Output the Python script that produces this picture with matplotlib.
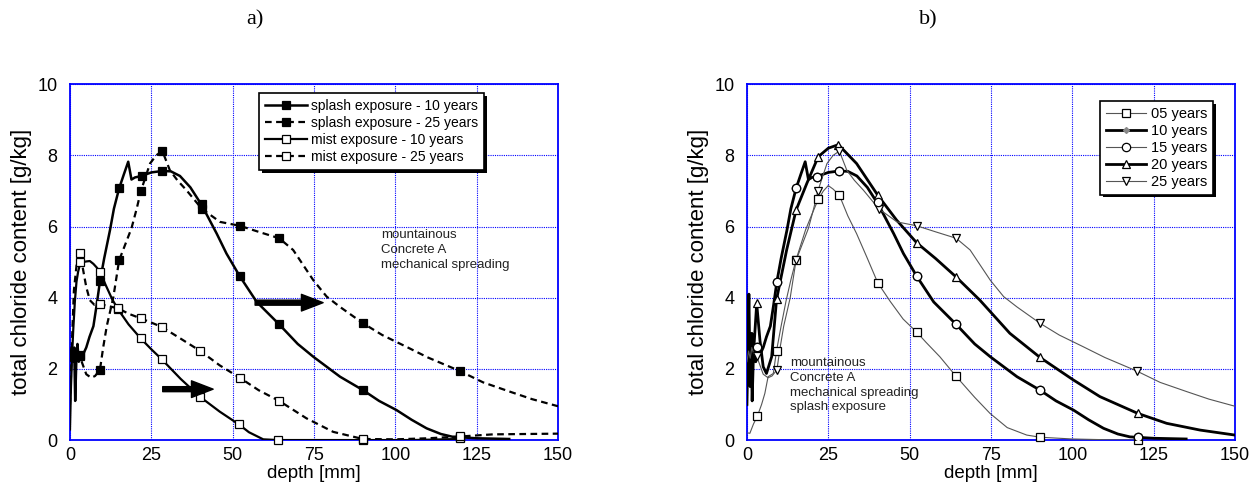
import matplotlib
matplotlib.use("Agg")
import matplotlib.pyplot as plt
from matplotlib.lines import Line2D

plt.rcParams['font.family'] = ['Liberation Sans', 'DejaVu Sans']

# ---- data (depth in mm, chloride in g/kg) ----
# splash exposure - 10 years (curve and symbols)
splash10_depth = [0, 0.5, 1.0, 1.3, 1.6, 2.0, 2.3, 2.7, 3.1, 4, 5, 6, 7.2, 8.2, 9.2, 10.5, 12.3,
                  13.5, 15.1, 16.5, 17.9, 18.9, 20, 22, 25, 28.4, 31, 33.8, 37, 40.5, 45.1, 48.1,
                  52.2, 57.4, 64.3, 70, 74.8, 83, 90.1, 95, 100.4, 105, 109.6, 114, 117.7, 125, 135]
splash10_cl = [2.3, 2.6, 2.2, 2.6, 1.1, 2.4, 2.7, 2.2, 2.34, 2.4, 2.6, 2.9, 3.2, 3.8, 4.45, 5.1, 5.9,
               6.5, 7.07, 7.45, 7.82, 7.32, 7.38, 7.42, 7.52, 7.56, 7.55, 7.42, 7.1, 6.6, 5.8, 5.24,
               4.6, 3.88, 3.25, 2.7, 2.34, 1.78, 1.4, 1.1, 0.84, 0.57, 0.33, 0.17, 0.09, 0.05, 0.03]
splash10_mk_depth = [3.2, 9.2, 15.1, 22, 28.4, 40.5, 52.2, 64.3, 90.1, 119.8]
splash10_mk_cl = [2.4, 4.47, 7.07, 7.42, 7.56, 6.62, 4.6, 3.25, 1.4, 0.08]

# splash exposure - 25 years
splash25_depth = [0, 0.5, 1, 1.5, 2, 3, 4, 5, 6.5, 7.7, 9.2, 10.2, 11.3, 12.3, 13.3, 15.1, 17, 18.9,
                  20.5, 21.8, 24.6, 26.5, 28.4, 30.7, 33, 35.8, 40.5, 46.1, 52.2, 58, 64.3, 68.6,
                  74.8, 78.9, 83, 90.1, 96, 103.4, 110, 119.8, 127, 135.2, 142, 150]
splash25_cl = [2.2, 2.5, 2.3, 2.6, 2.45, 2.35, 2.1, 1.85, 1.75, 1.8, 1.97, 2.6, 3.2, 3.6, 4.0, 5.05,
               5.5, 5.95, 6.5, 7.0, 7.77, 8.0, 8.12, 7.58, 7.3, 7.02, 6.5, 6.13, 6.02, 5.85, 5.67,
               5.34, 4.49, 4.03, 3.74, 3.28, 2.95, 2.62, 2.32, 1.94, 1.62, 1.36, 1.15, 0.95]
splash25_mk_depth = [3.2, 9.2, 15.1, 21.8, 28.4, 40.5, 52.2, 64.3, 90.1, 119.8]
splash25_mk_cl = [2.35, 1.97, 5.05, 7.0, 8.12, 6.5, 6.02, 5.67, 3.28, 1.94]

# mist exposure - 10 years
mist10_depth = [0, 0.3, 0.7, 1.0, 1.5, 2.0, 2.5, 3.1, 4, 5.1, 6.1, 7.2, 8.2, 9.2, 11, 13, 14.8, 18,
                21.7, 25, 28.2, 34, 39.9, 46, 51.9, 55, 59.4, 64, 80, 90, 105, 120]
mist10_cl = [0.3, 1.5, 2.5, 3.1, 3.9, 4.45, 4.73, 4.95, 5.0, 5.02, 5.03, 4.95, 4.85, 4.73, 4.35,
             3.95, 3.67, 3.25, 2.86, 2.55, 2.27, 1.72, 1.22, 0.8, 0.44, 0.22, 0.02, 0, 0, 0, 0, 0.03]
mist10_mk_depth = [3.1, 9.2, 14.8, 21.7, 28.2, 39.9, 51.9, 64, 90, 120]
mist10_mk_cl = [5.0, 4.73, 3.67, 2.86, 2.27, 1.22, 0.44, 0.0, 0.0, 0.05]

# mist exposure - 25 years
mist25_depth = [0, 0.3, 0.7, 1.2, 2.0, 3.1, 4.0, 5.0, 6.1, 7.5, 9.2, 12, 14.8, 18, 21.7, 25, 28.2,
                34, 40.1, 46, 52.2, 58, 64.3, 72.7, 80.9, 90, 100, 110, 120, 130, 140, 150]
mist25_cl = [1.0, 1.8, 3.0, 4.2, 4.9, 5.25, 4.8, 4.3, 3.93, 3.8, 3.82, 3.76, 3.7, 3.55, 3.42, 3.3,
             3.18, 2.85, 2.5, 2.1, 1.75, 1.4, 1.1, 0.61, 0.23, 0.03, 0.02, 0.05, 0.1, 0.16, 0.17, 0.18]
mist25_mk_depth = [3.1, 9.2, 14.8, 21.7, 28.2, 40.1, 52.2, 64.3, 90, 120]
mist25_mk_cl = [5.25, 3.82, 3.7, 3.42, 3.18, 2.5, 1.75, 1.1, 0.03, 0.1]

# b) splash exposure by age (10 and 25 years are the splash curves above)
y05_depth = [0.3, 0.9, 2.0, 3.2, 4.5, 5.5, 6.5, 8.1, 9.1, 10.5, 12, 13.5, 15.1, 18, 20, 21.9, 23.5,
             25, 26.5, 28.4, 31, 33.7, 36.8, 40.2, 44, 48, 52.2, 55, 59.3, 64.2, 70, 74.7, 80, 86,
             90.1, 100, 110, 120.1]
y05_cl = [0.2, 0.19, 0.45, 0.67, 1.0, 1.31, 1.78, 1.87, 2.51, 3.2, 3.9, 4.5, 5.07, 5.9, 6.35, 6.76,
          7.0, 7.15, 7.05, 6.88, 6.3, 5.8, 5.15, 4.42, 3.9, 3.4, 3.03, 2.75, 2.34, 1.8, 1.2, 0.75,
          0.35, 0.14, 0.08, 0.03, 0.01, 0.0]
y05_mk_depth = [3.2, 9.1, 15.1, 21.9, 28.4, 40.2, 52.2, 64.2, 90.1, 120.1]
y05_mk_cl = [0.67, 2.51, 5.07, 6.76, 6.88, 4.42, 3.03, 1.8, 0.08, 0.0]

y15_mk_depth = [3.2, 9.1, 15.1, 21.6, 28.4, 40.2, 52.2, 64.2, 90.1, 120.1]
y15_mk_cl = [2.62, 4.45, 7.07, 7.4, 7.57, 6.7, 4.6, 3.26, 1.40, 0.09]

y20_depth = [0, 0.3, 0.6, 1.0, 1.5, 2.0, 3.0, 4.0, 5.0, 6.0, 7.6, 9.1, 12.2, 15.1, 18.4, 21.9, 25,
             28.1, 33.7, 40.2, 46, 52.2, 58, 64.2, 71.6, 80.8, 90.1, 100.3, 108.5, 120.1, 129,
             139.3, 150]
y20_cl = [1.0, 2.5, 4.1, 1.5, 3.0, 2.4, 3.84, 2.8, 2.06, 1.87, 2.34, 3.95, 5.34, 6.46, 7.21, 7.96,
          8.2, 8.3, 7.77, 6.88, 6.18, 5.54, 5.1, 4.59, 3.93, 3.0, 2.32, 1.69, 1.22, 0.75, 0.47,
          0.28, 0.14]
y20_mk_depth = [3.0, 9.1, 15.1, 21.9, 28.1, 40.2, 52.2, 64.2, 90.1, 120.1]
y20_mk_cl = [3.84, 3.95, 6.46, 7.96, 8.3, 6.88, 5.54, 4.59, 2.32, 0.75]

note_a = "mountainous\nConcrete A\nmechanical spreading"
note_b = "mountainous\nConcrete A\nmechanical spreading\nsplash exposure"

BLUE = "#0000ff"


def style_axes(ax):
    ax.set_xlim(0, 150)
    ax.set_ylim(0, 10)
    ax.set_xticks([0, 25, 50, 75, 100, 125, 150])
    ax.set_yticks([0, 2, 4, 6, 8, 10])
    ax.grid(True, color=BLUE, linestyle=(0, (1, 1)), linewidth=0.8)
    ax.set_axisbelow(True)
    for s in ax.spines.values():
        s.set_color(BLUE)
        s.set_linewidth(1.3)
    ax.tick_params(length=0, labelsize=13, pad=5)
    ax.tick_params(axis='y', pad=9)
    ax.set_xlabel("depth [mm]", fontsize=13.5, labelpad=1)
    ax.set_ylabel("total chloride content [g/kg]", fontsize=16, labelpad=4)


def series(ax, d, c, md, mc, ls, lw, color, marker, ms, mfc, z=3):
    ax.plot(d, c, linestyle=ls, linewidth=lw, color=color, zorder=z, clip_on=True)
    ax.plot(md, mc, linestyle='none', marker=marker, markersize=ms, markerfacecolor=mfc,
            markeredgecolor='black', markeredgewidth=0.9, zorder=z + 0.5, clip_on=False)
    return Line2D([], [], linestyle=ls, linewidth=lw, color=color, marker=marker,
                  markersize=ms, markerfacecolor=mfc, markeredgecolor='black',
                  markeredgewidth=0.9)


fig = plt.figure(figsize=(12.52, 4.95), dpi=100)
ax1 = fig.add_axes([0.0559, 0.111, 0.3898, 0.719])
ax2 = fig.add_axes([0.5966, 0.111, 0.3898, 0.719])

# ---- a) ----
style_axes(ax1)
dash = (0, (3, 2))
h1 = series(ax1, splash10_depth, splash10_cl, splash10_mk_depth, splash10_mk_cl,
            '-', 1.8, 'black', 's', 6, 'black')
h2 = series(ax1, splash25_depth, splash25_cl, splash25_mk_depth, splash25_mk_cl,
            dash, 1.6, 'black', 's', 6, 'black')
h3 = series(ax1, mist10_depth, mist10_cl, mist10_mk_depth, mist10_mk_cl,
            '-', 1.6, 'black', 's', 6, 'white')
h4 = series(ax1, mist25_depth, mist25_cl, mist25_mk_depth, mist25_mk_cl,
            dash, 1.6, 'black', 's', 6, 'white')

arrow = dict(arrowstyle="simple,head_length=2.6,head_width=2.0,tail_width=0.6",
             mutation_scale=6, color='black', shrinkA=0, shrinkB=0)
ax1.annotate("", xy=(77.8, 3.86), xytext=(56.9, 3.86), arrowprops=arrow, zorder=6)
ax1.annotate("", xy=(44.0, 1.43), xytext=(28.5, 1.43), arrowprops=arrow, zorder=6)

ax1.text(95.6, 5.92, note_a, fontsize=9.5, va='top', ha='left', linespacing=1.3,
         color='#222222')

leg1 = ax1.legend([h1, h2, h3, h4],
                  ["splash exposure - 10 years", "splash exposure - 25 years",
                   "mist exposure - 10 years", "mist exposure - 25 years"],
                  loc='upper left', bbox_to_anchor=(0.387, 0.975), borderaxespad=0,
                  fontsize=10, handlelength=3.0, handletextpad=0.3, labelspacing=0.2,
                  borderpad=0.45, fancybox=False, framealpha=1,
                  shadow={'color': 'black', 'alpha': 1, 'linewidth': 0})
leg1.get_frame().set_edgecolor('black')
leg1.get_frame().set_linewidth(1.2)

# ---- b) ----
style_axes(ax2)
g1 = series(ax2, y05_depth, y05_cl, y05_mk_depth, y05_mk_cl,
            '-', 0.8, '#555555', 's', 6, 'white', z=3)
# 15 years follows the 10 years curve; thin line under the thick one
g3 = series(ax2, splash10_depth, splash10_cl, y15_mk_depth, y15_mk_cl,
            '-', 0.8, '#555555', 'o', 6, 'white', z=2)
ax2.plot(splash10_depth, splash10_cl, color='black', linewidth=2.0, zorder=3)
ax2.plot(y15_mk_depth, y15_mk_cl, linestyle='none', marker='o', markersize=6,
         markerfacecolor='white', markeredgecolor='black', markeredgewidth=0.9, zorder=4)
g2 = Line2D([], [], color='black', linewidth=2.0, marker='D', markersize=3,
            markerfacecolor='#888888', markeredgecolor='#888888')
g4 = series(ax2, y20_depth, y20_cl, y20_mk_depth, y20_mk_cl,
            '-', 2.0, 'black', '^', 6, 'white', z=3)
g5 = series(ax2, splash25_depth, splash25_cl, splash25_mk_depth, splash25_mk_cl,
            '-', 0.8, '#555555', 'v', 6, 'white', z=3)

ax2.text(13.2, 2.33, note_b, fontsize=9.5, va='top', ha='left', linespacing=1.3,
         color='#222222', zorder=7)

leg2 = ax2.legend([g1, g2, g3, g4, g5],
                  ["05 years", "10 years", "15 years", "20 years", "25 years"],
                  loc='upper left', bbox_to_anchor=(0.723, 0.952), borderaxespad=0,
                  fontsize=10.5, handlelength=2.8, handletextpad=0.3, labelspacing=0.2,
                  borderpad=0.4, fancybox=False, framealpha=1,
                  shadow={'color': 'black', 'alpha': 1, 'linewidth': 0})
leg2.get_frame().set_edgecolor('black')
leg2.get_frame().set_linewidth(1.2)

fig.text(255 / 1252, 1 - 20 / 495, "a)", family=['Liberation Serif', 'DejaVu Serif'],
         fontsize=16, ha='center', va='center')
fig.text(928 / 1252, 1 - 20 / 495, "b)", family=['Liberation Serif', 'DejaVu Serif'],
         fontsize=16, ha='center', va='center')

fig.savefig("out.png", dpi=100)
